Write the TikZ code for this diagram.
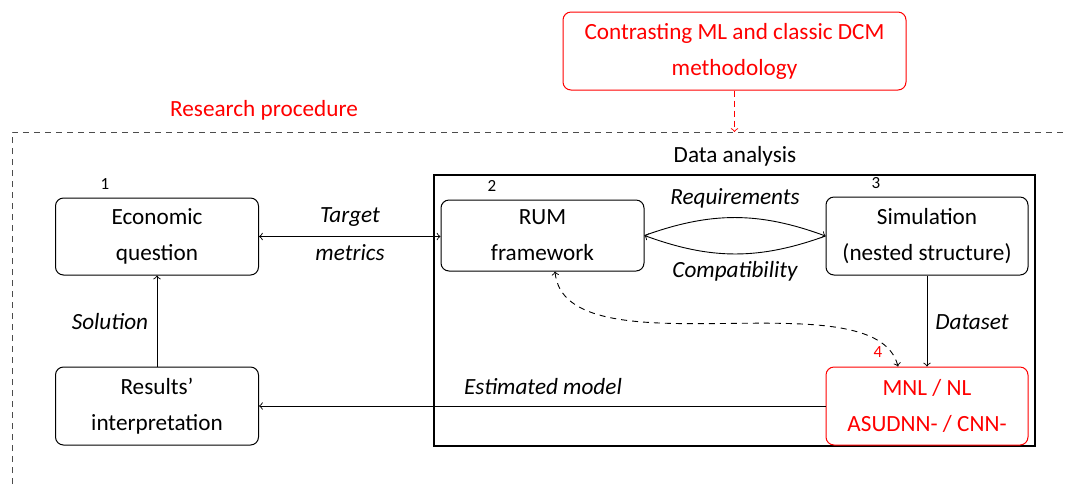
\documentclass[tikz,border=0pt]{standalone}
\usepackage{fontspec}
\setmainfont{Carlito}
\usetikzlibrary{calc}
\definecolor{myred}{RGB}{255,0,0}
\begin{document}
\begin{tikzpicture}[x=0.5pt,y=-0.5pt,
  every node/.style={font=\fontsize{11.6}{18}\selectfont},
  box/.style={draw, rounded corners=4pt, minimum width=101.5pt, minimum height=38.5pt, align=center, inner sep=0pt, line width=0.5pt},
  lbl/.style={font=\fontsize{11.6}{18}\selectfont\itshape, inner sep=0pt},
  num/.style={font=\fontsize{8.5}{9}\selectfont, inner sep=0pt},
  arr/.style={->, line width=0.45pt},
]
\useasboundingbox (0,0) rectangle (1067,484);
% top red box
\node[box, draw=myred, text=myred, minimum width=171.5pt, minimum height=39pt] (top) at (734.5,51) {Contrasting ML and classic DCM\\methodology};
% outer dashed region
\coordinate (tl) at (12,132);
\coordinate (bl) at (12,484);
\coordinate (tr) at (1067,132);
\draw[dashed, dash pattern=on 3pt off 2.5pt, black!70, line width=0.5pt] (bl) -- (tl) -- (tr);
\node[text=myred, inner sep=0pt] (rp) at (264,110) {Research procedure};
\coordinate (topend) at (734.5,132);
\draw[arr, myred, dashed, dash pattern=on 3pt off 2pt] (top.south) -- (topend);
% data analysis box
\node[inner sep=0pt] (da) at (735,156) {Data analysis};
\node[draw, line width=0.8pt, minimum width=300.5pt, minimum height=135.5pt, inner sep=0pt] (dabox) at (734.5,310.5) {};
% boxes
\node[box] (econ) at (157,236.5) {Economic\\question};
\node[box, minimum height=39pt] (res) at (157,406) {Results'\\interpretation};
\node[box, minimum height=35.5pt] (rum) at (542.5,235.5) {RUM\\framework};
\node[box, minimum width=101pt, minimum height=39pt] (sim) at (927,236) {Simulation\\(nested structure)};
\node[box, draw=myred, text=myred, minimum width=101pt, minimum height=39pt] (mnl) at (927,406) {MNL / NL\\ASUDNN- / CNN-};
% numbers
\node[num] (n1) at (105,184) {1};
\node[num] (n2) at (492,186) {2};
\node[num] (n3) at (876,183) {3};
\node[num, text=myred] (n4) at (878,352) {4};
% connectors
\draw[arr, <->] (econ.east) -- (econ.east -| rum.west);
\node[lbl] (t1) at (350,217) {Target};
\node[lbl] (t2) at (350,253) {metrics};
\draw[arr] (rum.east) to[bend left=20] (sim.west);
\draw[arr] (sim.west) to[bend left=20] (rum.east);
\node[lbl] (req) at (735,198) {Requirements};
\node[lbl] (comp) at (735,271) {Compatibility};
\draw[arr] (sim.south) -- (mnl.north);
\node[lbl] (ds) at (972,322) {Dataset};
\draw[arr] (mnl.west) -- (mnl.west -| res.east);
\node[lbl] (em) at (543,387) {Estimated model};
\draw[arr] (res.north) -- (econ.south);
\node[lbl] (sol) at (110,322) {Solution};
\draw[arr, <->, dashed, dash pattern=on 3pt off 2.5pt] ([xshift=6.25pt]rum.south) .. controls (565,375) and (875,275) .. ([xshift=-14.5pt]mnl.north);
\end{tikzpicture}
\end{document}
